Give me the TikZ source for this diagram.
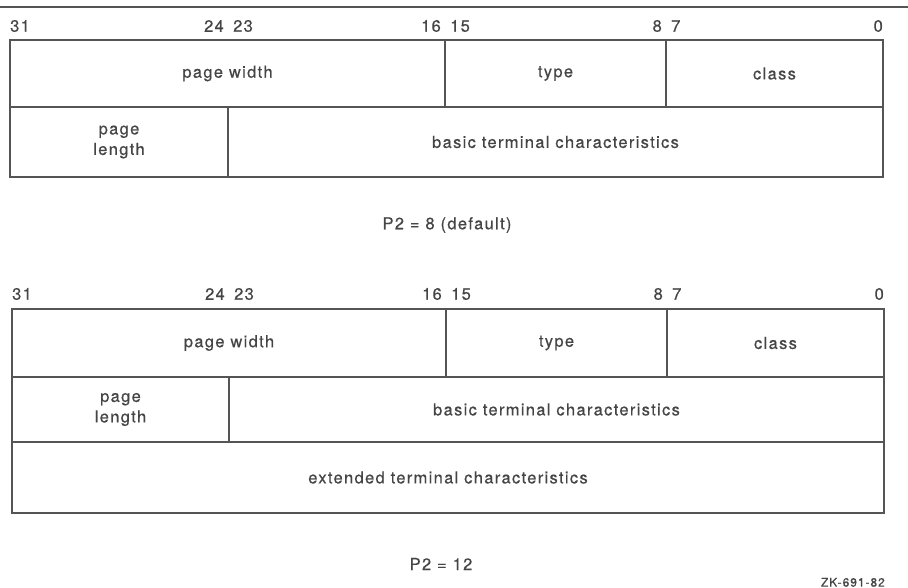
\documentclass[tikz,border=0pt]{standalone}
\usepackage{fontspec}
\setmainfont{TeX Gyre Heros}[LetterSpace = 8, FakeBold = 0.5]
\usepackage{xcolor}
\definecolor{FrameCol}{HTML}{555555}
\definecolor{LabelCol}{HTML}{454545}
\tikzset{
	field/.style = {draw = FrameCol, line width = 1.6pt, text = LabelCol, inner sep = 0pt, outer sep = 0pt, align = center, anchor = north west, font = \fontsize{16.5}{20.5}\selectfont},
	bitnum/.style = {text = LabelCol, inner sep = 0pt, font = \fontsize{16.5}{20.5}\selectfont},
	caption/.style = {text = LabelCol, inner sep = 0pt, font = \fontsize{16.5}{20.5}\selectfont},
}

\begin{document}
\begin{tikzpicture}[x = 1pt, y = -1pt]
	\useasboundingbox (0, 0) rectangle (908, 588);
	\draw[FrameCol, line width = 2pt] (0, 7) -- (908, 7);
	\begin{scope}[shift = {(10, 40)}]
		\def\rowA{67}
		\def\rowB{70}
		\node[field, minimum width = 435, minimum height = \rowA] (apw) at (0, 0) {page width};
		\node[field, minimum width = 221, minimum height = \rowA] (atype) at (435, 0) {type};
		\node[field, minimum width = 217, minimum height = \rowA] (aclass) at (656, 0) {class};
		\node[field, minimum width = 218, minimum height = \rowB] (apl) at (0, \rowA) {page\\length};
		\node[field, minimum width = 655, minimum height = \rowB] (abasic) at (218, \rowA) {basic terminal characteristics};
		\node[bitnum, anchor = west] (a31) at (0, -14) {31};
		\node[bitnum, anchor = east] (a0) at (873, -14) {0};
		\foreach \b/\hi/\lo in {218/24/23, 435/16/15, 656/8/7} {
				\node[bitnum, anchor = east] (a\hi) at (\b - 4, -14) {\hi};
				\node[bitnum, anchor = west] (a\lo) at (\b + 5, -14) {\lo};
			}
	\end{scope}
	\node[caption] (acap) at (447, 225) {P2 = 8 (default)};
	\begin{scope}[shift = {(12, 309)}]
		\def\rowA{68}
		\def\rowB{65}
		\def\rowC{71}
		\node[field, minimum width = 434, minimum height = \rowA] (bpw) at (0, 0) {page width};
		\node[field, minimum width = 221, minimum height = \rowA] (btype) at (434, 0) {type};
		\node[field, minimum width = 217, minimum height = \rowA] (bclass) at (655, 0) {class};
		\node[field, minimum width = 217, minimum height = \rowB] (bpl) at (0, \rowA) {page\\length};
		\node[field, minimum width = 655, minimum height = \rowB] (bbasic) at (217, \rowA) {basic terminal characteristics};
		\node[field, minimum width = 872, minimum height = \rowC] (bext) at (0, \rowA + \rowB) {extended terminal characteristics};
		\node[bitnum, anchor = west] (b31) at (0, -15) {31};
		\node[bitnum, anchor = east] (b0) at (872, -15) {0};
		\foreach \b/\hi/\lo in {217/24/23, 434/16/15, 655/8/7} {
				\node[bitnum, anchor = east] (b\hi) at (\b - 4, -15) {\hi};
				\node[bitnum, anchor = west] (b\lo) at (\b + 5, -15) {\lo};
			}
	\end{scope}
	\node[caption] (bcap) at (441, 564) {P2 = 12};
	\node[caption, anchor = south east, font = \fontsize{12}{14}\selectfont] (code) at (885, 587) {ZK-691-82};
\end{tikzpicture}
\end{document}
